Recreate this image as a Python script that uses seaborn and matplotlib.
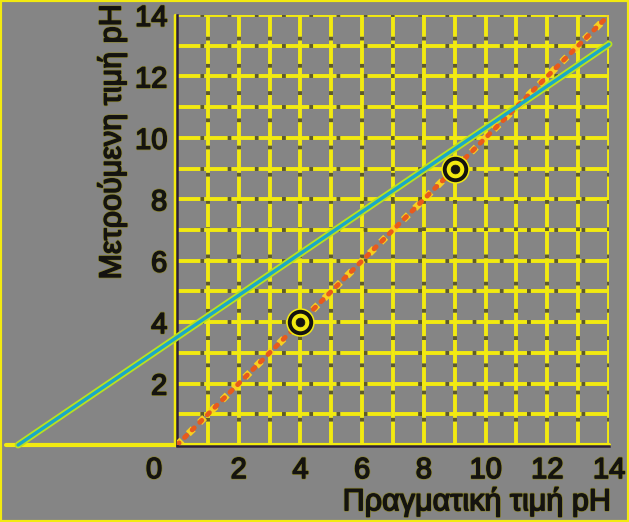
import matplotlib
matplotlib.use("Agg")
import matplotlib.pyplot as plt
import matplotlib.patheffects as pe
from matplotlib.patches import Rectangle
from matplotlib.transforms import ScaledTranslation
import seaborn as sns
import pandas as pd

# ideal response (measured = actual)
ideal_x = [0, 14]
ideal_y = [0, 14]
# uncalibrated electrode response
raw_x = [-5.15, 14]
raw_y = [0, 13.05]
# calibration buffers
buffer_x = [4, 9]
buffer_y = [4, 9]

x_ticks = [0, 2, 4, 6, 8, 10, 12, 14]
y_ticks = [2, 4, 6, 8, 10, 12, 14]
x_label = "Πραγματική τιμή pH"
y_label = "Μετρούμενη τιμή pH"

bg = "#858585"
yellow = "#f2ea10"
dark = "#141310"

sns.set_style("white")
plt.rcParams["font.family"] = ["Liberation Sans", "DejaVu Sans"]

fig = plt.figure(figsize=(6.29, 5.22), dpi=100, facecolor=bg)
ax = fig.add_axes([177 / 629, 1 - 445 / 522, 432 / 629, 430 / 522])
ax.set_facecolor(bg)

# grid every 1 pH unit, yellow dashes with small dark gaps
for v in range(1, 15):
    ax.axvline(v, color=yellow, lw=2.8, linestyle=(0, (6, 1)), gapcolor="#5e5a28", zorder=1)
    ax.axhline(v, color=yellow, lw=2.8, linestyle=(0, (6, 1)), gapcolor="#5e5a28", zorder=1)

ideal = pd.DataFrame({"x": ideal_x, "y": ideal_y})
raw = pd.DataFrame({"x": raw_x, "y": raw_y})
pts = pd.DataFrame({"x": buffer_x, "y": buffer_y})

# cyan line with yellow halo, goes past the axis on the left
sns.lineplot(data=raw, x="x", y="y", ax=ax, color="#b8e020", lw=5, sort=False,
             estimator=None, clip_on=False, zorder=3)
sns.lineplot(data=raw, x="x", y="y", ax=ax, color="#1aa8c8", lw=2.4, sort=False,
             estimator=None, clip_on=False, zorder=4)
# dotted orange ideal line
sns.lineplot(data=ideal, x="x", y="y", ax=ax, color="#f8d020", lw=5, sort=False,
             estimator=None, zorder=3, linestyle=(0, (1, 1.3)))
sns.lineplot(data=ideal, x="x", y="y", ax=ax, color="#e85a1c", lw=3.5, sort=False,
             estimator=None, zorder=3, linestyle=(0, (0.6, 1.6)), dash_capstyle="round")

# buffer points: ringed markers
sns.scatterplot(data=pts, x="x", y="y", ax=ax, s=360, color=yellow, edgecolor=yellow, zorder=5)
sns.scatterplot(data=pts, x="x", y="y", ax=ax, s=240, color=yellow, edgecolor=dark,
                linewidth=2.8, zorder=6)
sns.scatterplot(data=pts, x="x", y="y", ax=ax, s=40, color=dark, edgecolor=dark, zorder=7)

ax.set_xlim(0, 14)
ax.set_ylim(0, 14)

# axis lines: yellow line with a dark edge
ax.plot([-5.55, 14], [0, 0], color=yellow, lw=3, clip_on=False, zorder=2)
ax.plot([-0.07, -0.07], [0, 14], color=yellow, lw=2.5, clip_on=False, zorder=2)
for s in ["top", "right"]:
    ax.spines[s].set_visible(False)
ax.spines["left"].set_color("#2a1e3a")
ax.spines["bottom"].set_color("#2a1e3a")
ax.spines["left"].set_linewidth(1.8)
ax.spines["bottom"].set_linewidth(1.8)
ax.spines["bottom"].set_position(("outward", 1))

# heavier dark glyphs with a faint yellow fringe
stroke = [pe.withStroke(linewidth=2.0, foreground="#8a8430"),
          pe.withStroke(linewidth=1.0, foreground=dark)]
ax.set_xticks(x_ticks)
ax.set_yticks(y_ticks)
ax.tick_params(length=0, labelsize=21, labelcolor=dark, pad=7)
for lab in ax.get_xticklabels() + ax.get_yticklabels():
    lab.set_path_effects(stroke)
# the zero label sits left of the corner
zero = ax.get_xticklabels()[0]
zero.set_transform(zero.get_transform() + ScaledTranslation(-0.23, 0, fig.dpi_scale_trans))

ax.set_xlabel("")
ax.set_ylabel("")
fig.text(610 / 629, 1 - 502 / 522, x_label, ha="right", va="center", fontsize=22,
         color=dark, path_effects=stroke)
fig.text(112 / 629, 1 - 5 / 522, y_label, ha="center", va="top", rotation=90,
         fontsize=22, color=dark, path_effects=stroke)

fig.patches.append(Rectangle((0, 0), 1, 1, transform=fig.transFigure, fill=False,
                             edgecolor=yellow, lw=3, zorder=10))

fig.savefig("out.png", dpi=100, facecolor=bg)
